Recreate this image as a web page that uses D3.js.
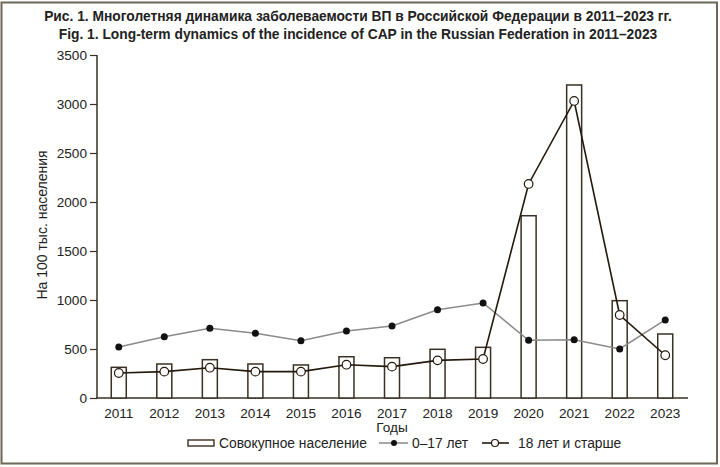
<!DOCTYPE html>
<html><head><meta charset="utf-8">
<script src="https://cdn.jsdelivr.net/npm/d3@7"></script>
<style>
html,body{margin:0;padding:0;background:#fff;}
svg{display:block;}
</style></head>
<body>
<script>
const years = ["2011","2012","2013","2014","2015","2016","2017","2018","2019","2020","2021","2022","2023"];
const totalPop = [313,347,391,347,337,421,411,497,517,1860,3194,993,653];
const kids = [520,626,711,660,585,684,735,901,969,589,595,500,796];
const adults = [255,269,309,269,269,340,320,384,398,2184,3031,847,436];
const yTicks = [0,500,1000,1500,2000,2500,3000,3500];
const titleLines = ["Рис. 1. Многолетняя динамика заболеваемости ВП в Российской Федерации в 2011–2023 гг.",
  "Fig. 1. Long-term dynamics of the incidence of CAP in the Russian Federation in 2011–2023"];
const yLabel = "На 100 тыс. населения";
const xLabel = "Годы";
const legendLabels = ["Совокупное население","0–17 лет","18 лет и старше"];

const W=720,H=467;
const ink="#3a3023";
const svg=d3.select("body").append("svg").attr("width",W).attr("height",H);
svg.append("rect").attr("x",1.5).attr("y",2.5).attr("width",715.5).attr("height",461).attr("fill","#fff").attr("stroke","#6e6656").attr("stroke-width",2);

svg.selectAll("text.title").data(titleLines).join("text")
  .attr("x",358).attr("y",(d,i)=>21+i*18).attr("text-anchor","middle")
  .attr("font-family","'Liberation Sans Narrow','Arial Narrow',sans-serif").attr("font-weight","bold")
  .attr("font-size",13.8).attr("fill","#222").text(d=>d);

const x=d3.scaleBand().domain(years).range([96,688]);
const y=d3.scaleLinear().domain([0,3500]).range([398,55]);
const cx=d=>x(d)+x.bandwidth()/2;

const font="'Liberation Sans',Arial,sans-serif";
const fs=13.6;
// y axis
const ya=svg.append("g").attr("transform","translate(97,0)")
  .call(d3.axisLeft(y).tickValues(yTicks).tickFormat(d3.format("d")).tickSize(7).tickPadding(3));
ya.select(".domain").attr("stroke",ink).attr("stroke-width",1.5).attr("d","M0,"+y(3500)+"V"+y(0));
ya.selectAll(".tick line").attr("stroke",ink).attr("stroke-width",1.2);
ya.selectAll("text").attr("font-family",font).attr("font-size",fs).attr("fill","#222");

// x axis
const xa=svg.append("g").attr("transform","translate(0,398)")
  .call(d3.axisBottom(x).tickSize(0).tickPadding(10));
xa.select(".domain").attr("stroke",ink).attr("stroke-width",1.5).attr("d","M96,0H688");
xa.selectAll("text").attr("font-family",font).attr("font-size",fs).attr("fill","#222");

svg.append("text").attr("transform","translate(47,225) rotate(-90)").attr("text-anchor","middle")
  .attr("font-family",font).attr("font-size",14).attr("fill","#222").text(yLabel);
svg.append("text").attr("x",392).attr("y",432).attr("text-anchor","middle")
  .attr("font-family",font).attr("font-size",fs).attr("fill","#222").text(xLabel);

// bars
const bw=15;
svg.selectAll("rect.bar").data(totalPop).join("rect").attr("class","bar")
  .attr("x",(d,i)=>cx(years[i])-bw/2).attr("y",d=>y(d)).attr("width",bw).attr("height",d=>y(0)-y(d))
  .attr("fill","#fff").attr("stroke",ink).attr("stroke-width",1.5);

// kids line
const line=d3.line().x((d,i)=>cx(years[i])).y(d=>y(d));
svg.append("path").datum(kids).attr("d",line).attr("fill","none").attr("stroke","#8a8a8a").attr("stroke-width",1.5);
svg.selectAll("circle.k").data(kids).join("circle").attr("class","k")
  .attr("cx",(d,i)=>cx(years[i])).attr("cy",d=>y(d)).attr("r",3.5).attr("fill","#111");
// adults line
svg.append("path").datum(adults).attr("d",line).attr("fill","none").attr("stroke","#24190c").attr("stroke-width",1.6);
svg.selectAll("circle.a").data(adults).join("circle").attr("class","a")
  .attr("cx",(d,i)=>cx(years[i])).attr("cy",d=>y(d)).attr("r",4.3).attr("fill","#fff").attr("stroke","#24190c").attr("stroke-width",1.2);

// legend
const ly=443;
const lg=svg.append("g");
lg.append("rect").attr("x",188).attr("y",ly-3).attr("width",26).attr("height",6).attr("fill","#fff").attr("stroke",ink).attr("stroke-width",1.4);
lg.append("line").attr("x1",379).attr("x2",408).attr("y1",ly).attr("y2",ly).attr("stroke","#8a8a8a").attr("stroke-width",1.5);
lg.append("circle").attr("cx",394).attr("cy",ly).attr("r",3).attr("fill","#111");
lg.append("line").attr("x1",482).attr("x2",509).attr("y1",ly).attr("y2",ly).attr("stroke","#24190c").attr("stroke-width",1.6);
lg.append("circle").attr("cx",495).attr("cy",ly).attr("r",3.5).attr("fill","#fff").attr("stroke","#24190c").attr("stroke-width",1.2);
const lx=[219,412,518];
lg.selectAll("text").data(legendLabels).join("text").attr("x",(d,i)=>lx[i]).attr("y",ly+4.5)
  .attr("font-family",font).attr("font-size",13.8).attr("fill","#222").text(d=>d);
</script>
</body></html>
